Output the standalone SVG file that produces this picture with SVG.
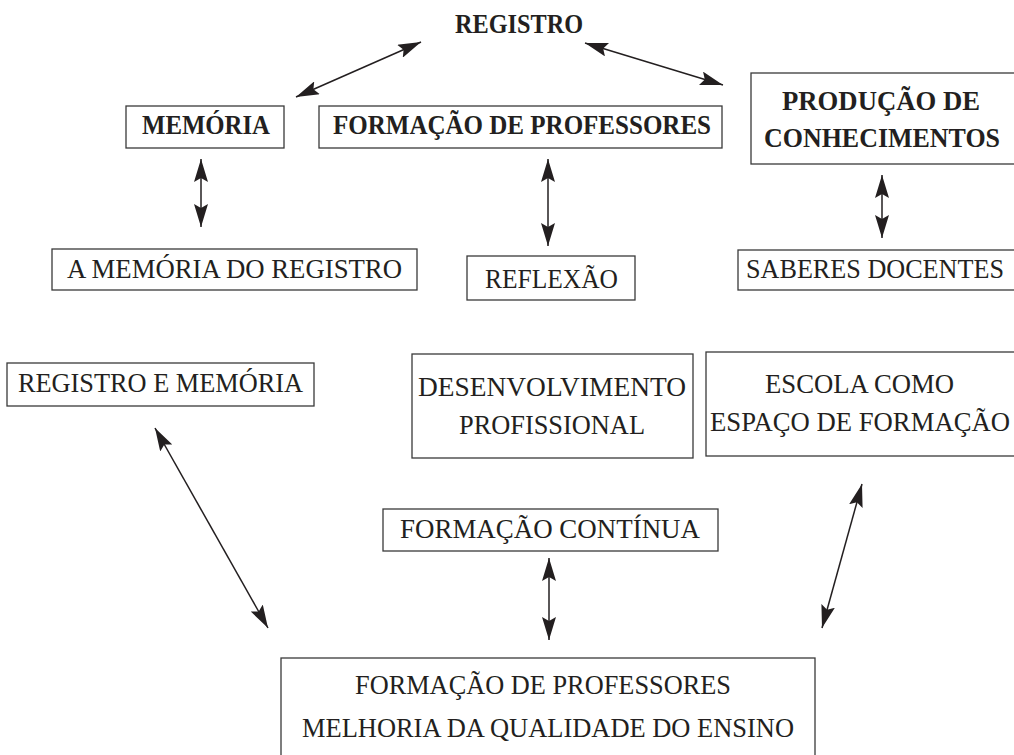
<svg xmlns="http://www.w3.org/2000/svg" width="1014" height="755" viewBox="0 0 1014 755">
  <style>
    .box { fill: none; stroke: #3a3a3a; stroke-width: 1.3; }
    .t { font-family: "Liberation Serif", "DejaVu Serif", "Noto Serif", "Times New Roman", serif; font-size: 27px; fill: #231f20; }
    .b { font-weight: bold; }
    .c { stroke: #231f20; stroke-width: 1.5; fill: none; marker-start: url(#ah); marker-end: url(#ah); }
  </style>
  <defs>
    <marker id="ah" viewBox="0 0 23 14" refX="23" refY="7" markerWidth="23" markerHeight="14" markerUnits="userSpaceOnUse" orient="auto-start-reverse">
      <path d="M0,0 L23,7 L0,14 L4,7 Z" fill="#231f20"/>
    </marker>
  </defs>
  <rect width="1014" height="755" fill="#ffffff"/>

  <g id="registro">
    <text class="t b" x="455" y="33" textLength="128" lengthAdjust="spacingAndGlyphs">REGISTRO</text>
  </g>
  <g id="memoria">
    <rect class="box" x="126" y="106" width="158" height="42"/>
    <text class="t b" x="142" y="134" textLength="128" lengthAdjust="spacingAndGlyphs">MEMÓRIA</text>
  </g>
  <g id="formacao-professores">
    <rect class="box" x="319" y="106" width="403" height="42"/>
    <text class="t b" x="333" y="134" textLength="378" lengthAdjust="spacingAndGlyphs">FORMAÇÃO DE PROFESSORES</text>
  </g>
  <g id="producao">
    <rect class="box" x="751" y="73" width="264" height="91"/>
    <text class="t b" x="782" y="110" textLength="198" lengthAdjust="spacingAndGlyphs">PRODUÇÃO DE</text>
    <text class="t b" x="764" y="147" textLength="236" lengthAdjust="spacingAndGlyphs">CONHECIMENTOS</text>
  </g>
  <g id="memoria-registro">
    <rect class="box" x="52" y="249" width="365" height="41"/>
    <text class="t" x="67" y="278" textLength="335" lengthAdjust="spacingAndGlyphs">A MEMÓRIA DO REGISTRO</text>
  </g>
  <g id="reflexao">
    <rect class="box" x="467" y="256" width="168" height="44"/>
    <text class="t" x="485" y="288" textLength="133" lengthAdjust="spacingAndGlyphs">REFLEXÃO</text>
  </g>
  <g id="saberes">
    <rect class="box" x="738" y="250" width="277" height="40"/>
    <text class="t" x="746" y="278" textLength="258" lengthAdjust="spacingAndGlyphs">SABERES DOCENTES</text>
  </g>
  <g id="registro-memoria">
    <rect class="box" x="7" y="363" width="307" height="43"/>
    <text class="t" x="18" y="392" textLength="285" lengthAdjust="spacingAndGlyphs">REGISTRO E MEMÓRIA</text>
  </g>
  <g id="desenvolvimento">
    <rect class="box" x="412" y="354" width="281" height="104"/>
    <text class="t" x="418" y="396" textLength="268" lengthAdjust="spacingAndGlyphs">DESENVOLVIMENTO</text>
    <text class="t" x="459" y="434" textLength="186" lengthAdjust="spacingAndGlyphs">PROFISSIONAL</text>
  </g>
  <g id="escola">
    <rect class="box" x="706" y="352" width="309" height="104"/>
    <text class="t" x="765" y="393" textLength="189" lengthAdjust="spacingAndGlyphs">ESCOLA COMO</text>
    <text class="t" x="710" y="431" textLength="300" lengthAdjust="spacingAndGlyphs">ESPAÇO DE FORMAÇÃO</text>
  </g>
  <g id="formacao-continua">
    <rect class="box" x="383" y="509" width="335" height="42"/>
    <text class="t" x="400" y="538" textLength="300" lengthAdjust="spacingAndGlyphs">FORMAÇÃO CONTÍNUA</text>
  </g>
  <g id="melhoria">
    <rect class="box" x="281" y="658" width="534" height="110"/>
    <text class="t" x="355" y="694" textLength="376" lengthAdjust="spacingAndGlyphs">FORMAÇÃO DE PROFESSORES</text>
    <text class="t" x="302" y="737" textLength="492" lengthAdjust="spacingAndGlyphs">MELHORIA DA QUALIDADE DO ENSINO</text>
  </g>

  <g id="connectors">
    <line class="c" x1="296" y1="97" x2="421" y2="42"/>
    <line class="c" x1="585" y1="43" x2="723" y2="85"/>
    <line class="c" x1="201" y1="159" x2="201" y2="227"/>
    <line class="c" x1="548" y1="159" x2="548" y2="246"/>
    <line class="c" x1="882" y1="175" x2="882" y2="238"/>
    <line class="c" x1="155" y1="428" x2="268" y2="628"/>
    <line class="c" x1="862" y1="484" x2="822" y2="628"/>
    <line class="c" x1="549" y1="558" x2="549" y2="640"/>
  </g>
</svg>
